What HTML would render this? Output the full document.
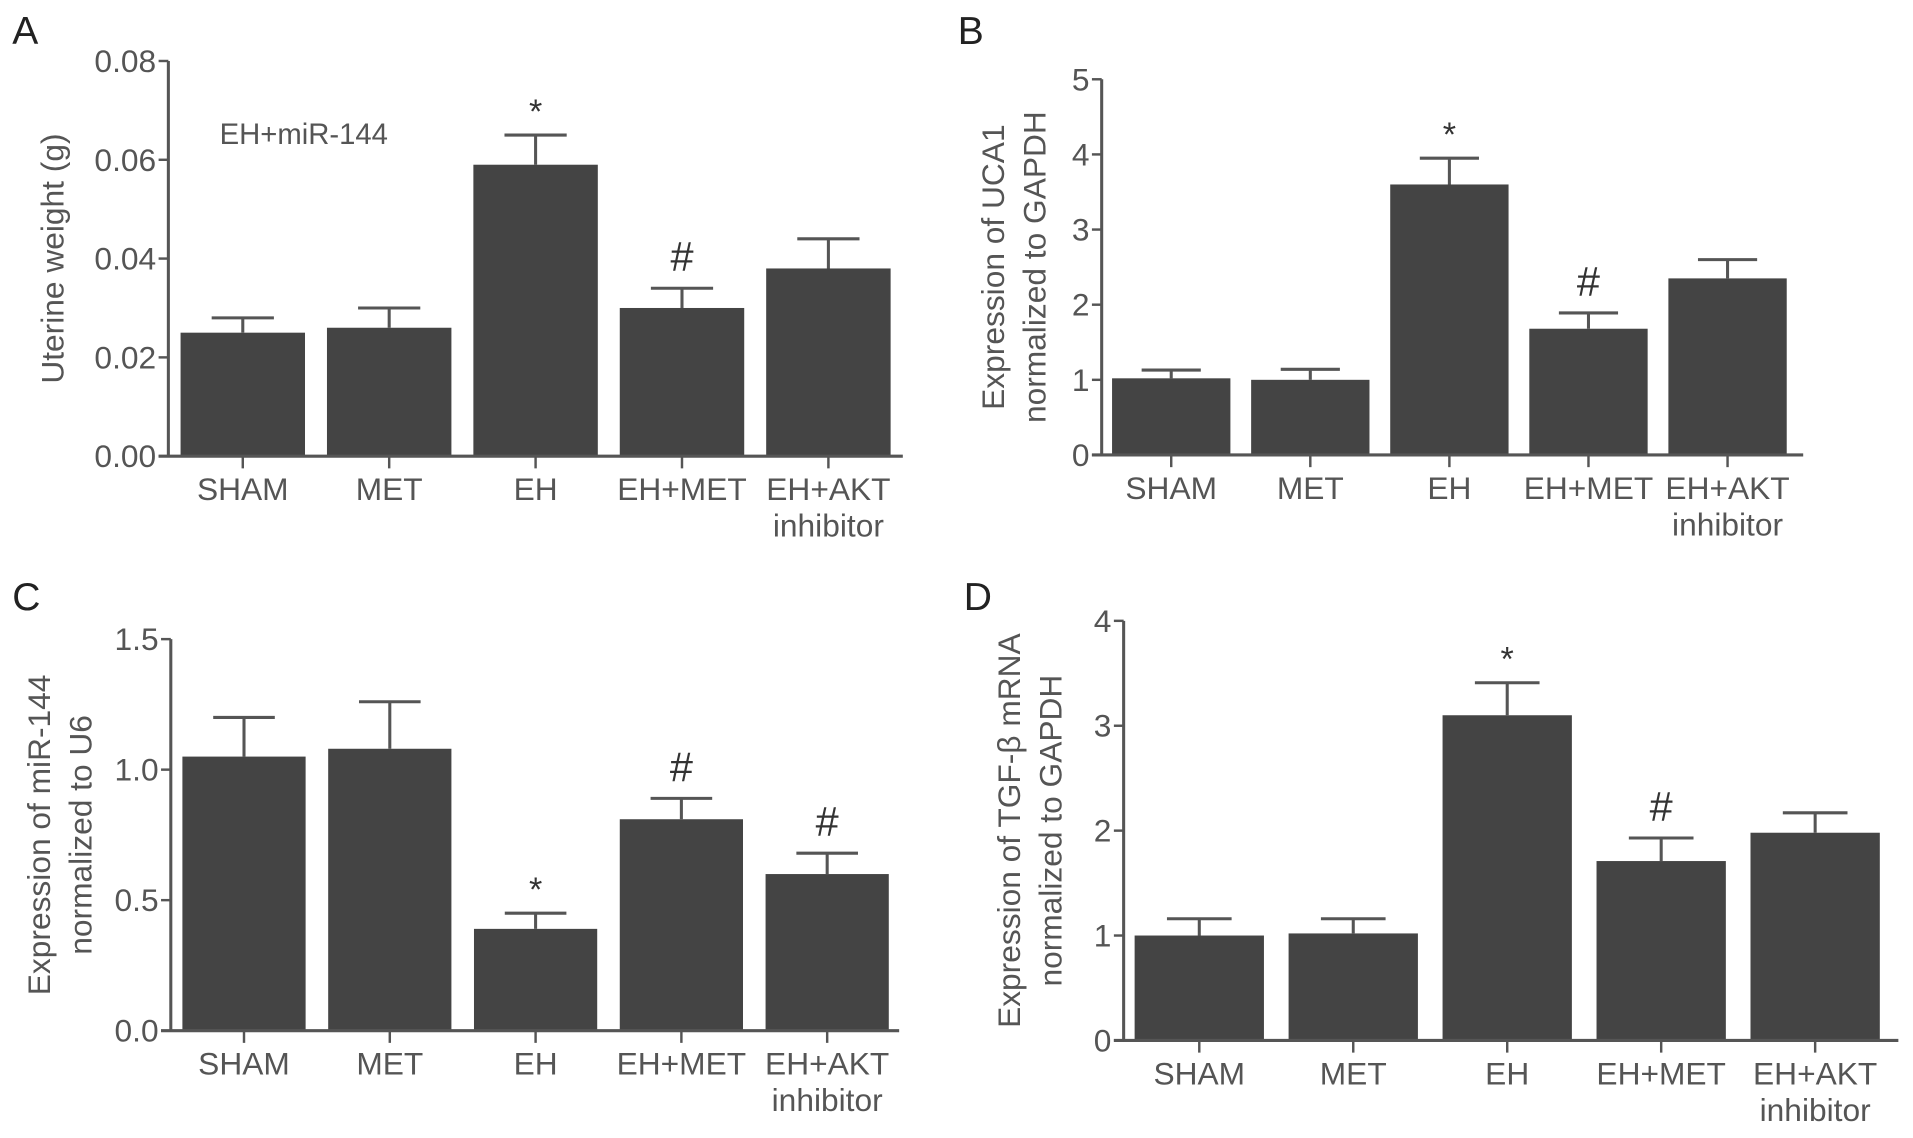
<!DOCTYPE html>
<html><head><meta charset="utf-8"><style>
html,body{margin:0;padding:0;background:#fff;}
svg{display:block;}
text{font-family:"Liberation Sans",sans-serif;fill:#555;}
</style></head><body>
<svg id="fig" width="1913" height="1138" viewBox="0 0 1568 933" preserveAspectRatio="none" xmlns="http://www.w3.org/2000/svg"></svg>
<script>
const categories = ["SHAM","MET","EH","EH+MET","EH+AKT"];
const valuesA = [0.025,0.026,0.059,0.030,0.038];
const errA = [0.028,0.030,0.065,0.034,0.044];
const marksA = ["","","*","#",""];
const ticksA = [0,0.02,0.04,0.06,0.08];
const tickLabelsA = ["0.00","0.02","0.04","0.06","0.08"];
const valuesB = [1.02,1.0,3.6,1.68,2.35];
const errB = [1.13,1.14,3.95,1.89,2.6];
const marksB = ["","","*","#",""];
const ticksB = [0,1,2,3,4,5];
const tickLabelsB = ["0","1","2","3","4","5"];
const valuesC = [1.05,1.08,0.39,0.81,0.60];
const errC = [1.20,1.26,0.45,0.89,0.68];
const marksC = ["","","*","#","#"];
const ticksC = [0,0.5,1.0,1.5];
const tickLabelsC = ["0.0","0.5","1.0","1.5"];
const valuesD = [1.0,1.02,3.1,1.71,1.98];
const errD = [1.16,1.16,3.41,1.93,2.17];
const marksD = ["","","*","#",""];
const ticksD = [0,1,2,3,4];
const tickLabelsD = ["0","1","2","3","4"];

const NS="http://www.w3.org/2000/svg";
const svg=document.getElementById('fig');
function mk(tag,attrs,parent){const e=document.createElementNS(NS,tag);for(const k in attrs)e.setAttribute(k,attrs[k]);(parent||svg).appendChild(e);return e;}
function txt(s,attrs,parent){const e=mk('text',attrs,parent);e.textContent=s;return e;}

function panel(cfg){
  const g=mk('g',{});
  
  
  const yScale=v=>cfg.y0-(v-0)/(cfg.ymax)*(cfg.y0-cfg.ytop);
  const L=txt(cfg.id,{x:cfg.lx,y:cfg.ly,'font-size':32,style:'fill:#222'},g);
  
  
  const bw=cfg.bw, step=cfg.step;
  cfg.vals.forEach((v,i)=>{
    const cx=cfg.c0+i*step;
    const r=mk('rect',{x:cx-bw/2,y:yScale(v),width:bw,height:cfg.y0-yScale(v),fill:'#444'},g);
    
    
    const ey=yScale(cfg.err[i]);
    const e=mk('path',{d:`M${cx} ${yScale(v)}V${ey}M${cx-bw/4} ${ey}H${cx+bw/4}`,stroke:'#555','stroke-width':2.5,fill:'none'},g);
    
    
    if(cfg.marks[i]){
      const m=txt(cfg.marks[i],{x:cx,y:ey-(cfg.marks[i]=='*'?10:14),'text-anchor':'middle','font-size':cfg.marks[i]=='*'?28:34,style:'fill:#333'},g);
      
      
    }
    mk('line',{x1:cx,x2:cx,y1:cfg.y0,y2:cfg.y0+10,stroke:'#555','stroke-width':2},g);
    const lab=categories[i];
    const tl=txt(lab,{x:cx,y:cfg.y0+36,'text-anchor':'middle','font-size':26},g);
    
    
    if(lab==="EH+AKT"){
      const t2=txt("inhibitor",{x:cx,y:cfg.y0+66,'text-anchor':'middle','font-size':26},g);
      
      
    }
  });
  const ax=mk('path',{d:`M${cfg.ax} ${cfg.ytop}V${cfg.y0}M${cfg.ax-8} ${cfg.y0}H${cfg.xend}`,stroke:'#555','stroke-width':2.5,fill:'none'},g);
  
  
  cfg.ticks.forEach((tv,i)=>{
    const y=yScale(tv);
    mk('line',{x1:cfg.ax-8,x2:cfg.ax,y1:y,y2:y,stroke:'#555','stroke-width':2},g);
    const tl=txt(cfg.tlabels[i],{x:cfg.ax-10,y:y+9,'text-anchor':'end','font-size':26},g);
    
    
  });
  const my=(cfg.ytop+cfg.y0)/2;
  cfg.title.forEach((s,k)=>{
    const tt=txt(s,{x:cfg.tx[k],y:my,'text-anchor':'middle','font-size':26,transform:`rotate(-90 ${cfg.tx[k]} ${my})`},g);
    
    
  });
  return g;
}

panel({id:'A',lx:10,ly:36,ax:138,ytop:50,y0:374,ymax:0.08,xend:740,c0:199,step:120,bw:102,vals:valuesA,err:errA,marks:marksA,ticks:ticksA,tlabels:tickLabelsA,title:["Uterine weight (g)"],tx:[52]});
panel({id:'B',lx:785,ly:36,ax:903,ytop:65,y0:373,ymax:5,xend:1478,c0:960,step:114,bw:97,vals:valuesB,err:errB,marks:marksB,ticks:ticksB,tlabels:tickLabelsB,title:["Expression of UCA1","normalized to GAPDH"],tx:[823,857]});
panel({id:'C',lx:10,ly:500,ax:140,ytop:524,y0:845,ymax:1.5,xend:737,c0:200,step:119.5,bw:101,vals:valuesC,err:errC,marks:marksC,ticks:ticksC,tlabels:tickLabelsC,title:["Expression of miR-144","normalized to U6"],tx:[41,75]});
panel({id:'D',lx:790,ly:500,ax:921,ytop:509,y0:853,ymax:4,xend:1556,c0:983,step:126.2,bw:106,vals:valuesD,err:errD,marks:marksD,ticks:ticksD,tlabels:tickLabelsD,title:["Expression of TGF-β mRNA","normalized to GAPDH"],tx:[836,870]});

const ann=txt("EH+miR-144",{x:180,y:118,'font-size':24});


</script>
</body></html>
